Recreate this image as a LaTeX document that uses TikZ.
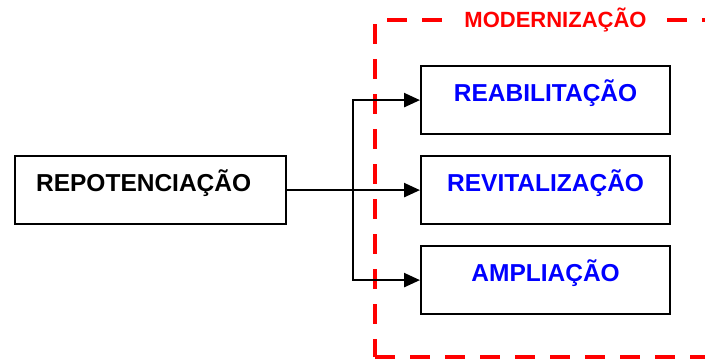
\documentclass[tikz,border=0pt]{standalone}
\usepackage{fontspec}
\setmainfont{Liberation Sans}
\usetikzlibrary{arrows.meta}
\definecolor{frame}{RGB}{255,0,0}
\definecolor{stagetext}{RGB}{0,0,255}
\begin{document}
\begin{tikzpicture}[x=1pt,y=-1pt,
  stagebox/.style={draw=black,line width=2.2pt,inner sep=0pt,anchor=north west,
    minimum width=249pt,text height=35pt,text depth=33pt,align=center,
    font=\fontsize{24.5}{28}\selectfont\bfseries},
  link/.style={line width=2.5pt,-{Triangle[length=16pt,width=14pt]}},
  groupframe/.style={draw=frame,line width=4.5pt,dash pattern=on 20pt off 15pt}]
  \useasboundingbox (0,0) rectangle (705,360);
  \clip (0,0) rectangle (705,360);

  % dashed frame around the modernisation stages (open to the right)
  \draw[groupframe] (387,20) -- (740,20);
  \draw[groupframe] (375,24) -- (375,357);
  \draw[groupframe] (375,357) -- (740,357);
  \node[fill=white,text=frame,inner xsep=9pt,inner ysep=3pt,
        font=\fontsize{22}{26}\selectfont\bfseries] (title) at (555.5,20) {MODERNIZAÇÃO};

  % source stage, label set flush left
  \node[stagebox,minimum width=271pt,inner xsep=21pt,text width=229pt,align=left]
    (repot) at (14,155) {REPOTENCIAÇÃO};

  % modernisation stages
  \node[stagebox,text=stagetext] (reab)  at (420,65)  {REABILITAÇÃO};
  \node[stagebox,text=stagetext] (revit) at (420,155) {REVITALIZAÇÃO};
  \node[stagebox,text=stagetext] (ampl)  at (420,245) {AMPLIAÇÃO};

  % branching connectors
  \coordinate (split) at (353,188.5);
  \draw[link] (repot.east) -- (revit.west);
  \draw[link] (split) |- (reab.west);
  \draw[link] (split) |- (ampl.west);
\end{tikzpicture}
\end{document}
